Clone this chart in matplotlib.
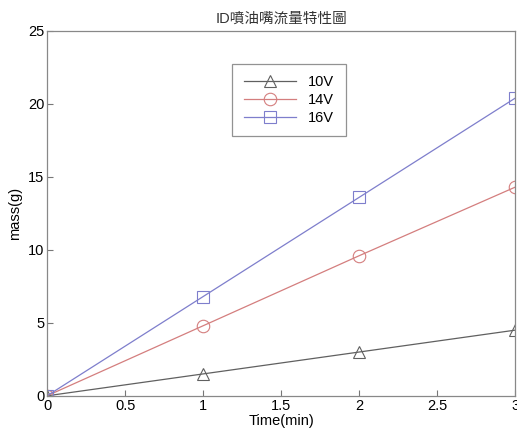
import matplotlib.pyplot as plt

plt.rcParams['font.family'] = ['Liberation Sans', 'Noto Sans CJK TC', 'DejaVu Sans']

# Datos
time_min = [0, 1, 2, 3]
mass_10v = [0, 1.5, 3.0, 4.5]
mass_14v = [0, 4.8, 9.6, 14.3]
mass_16v = [0, 6.8, 13.6, 20.4]

fig = plt.figure(figsize=(5.17, 4.34), dpi=100)
ax = fig.add_axes([0.091, 0.088, 0.906, 0.841])

ax.plot(time_min, mass_10v, color='#606060', lw=0.9, marker='^', ms=9,
        mfc='none', mec='#606060', mew=0.8, label='10V')
ax.plot(time_min, mass_14v, color='#d47e7e', lw=0.9, marker='o', ms=9,
        mfc='none', mec='#d47e7e', mew=0.8, label='14V')
ax.plot(time_min, mass_16v, color='#7e7ecc', lw=0.9, marker='s', ms=8,
        mfc='none', mec='#7e7ecc', mew=0.8, label='16V')

ax.set_xlim(0, 3)
ax.set_ylim(0, 25)
ax.set_xticks([0, 0.5, 1, 1.5, 2, 2.5, 3])
ax.set_xticklabels(['0', '0.5', '1', '1.5', '2', '2.5', '3'])
ax.set_yticks([0, 5, 10, 15, 20, 25])
ax.tick_params(direction='in', length=4, labelsize=10.5, color='#777777', pad=2)
for s in ax.spines.values():
    s.set_color('#888888')
    s.set_linewidth(0.9)

ax.set_xlabel('Time(min)', fontsize=10.5, labelpad=1)
ax.set_ylabel('mass(g)', fontsize=10.5, labelpad=4)
ax.set_title('ID噴油嘴流量特性圖', fontsize=10.5, color='#333333', pad=6)

leg = ax.legend(loc='upper left', bbox_to_anchor=(0.395, 0.91), fontsize=10.5,
                frameon=True, fancybox=False, handlelength=3.6,
                borderpad=0.8, labelspacing=0.25, borderaxespad=0)
leg.get_frame().set_edgecolor('#777777')
leg.get_frame().set_linewidth(0.9)

plt.savefig('out.png', dpi=100)
